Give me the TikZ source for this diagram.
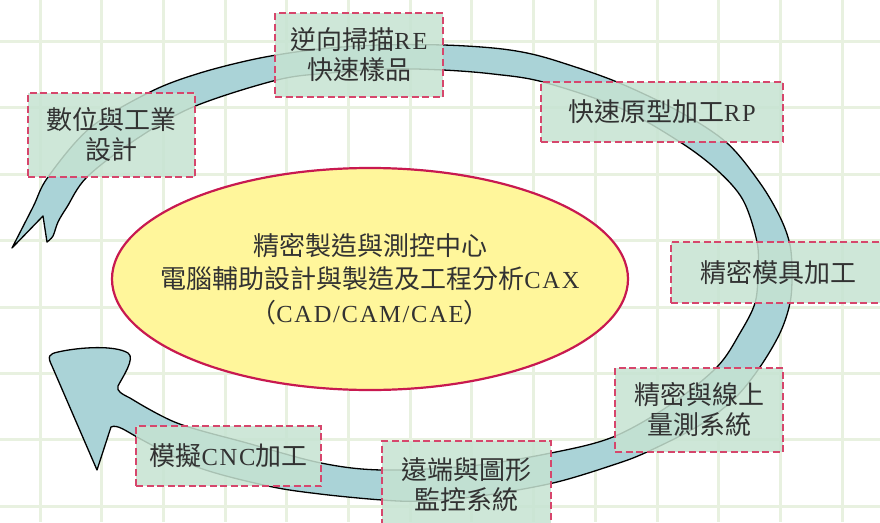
\documentclass[tikz,border=0pt]{standalone}
\usepackage{fontspec}
\setmainfont{Liberation Serif}
\newfontfamily\cjk{Noto Sans CJK TC}
\newfontfamily\latfont[LetterSpace=7]{Liberation Serif}
\usetikzlibrary{shapes.geometric}
\definecolor{gridc}{RGB}{232,241,224}
\definecolor{bandc}{RGB}{170,211,215}
\definecolor{ellfill}{RGB}{255,246,155}
\definecolor{elldraw}{RGB}{200,25,80}
\definecolor{boxfill}{RGB}{198,227,210}
\definecolor{boxdraw}{RGB}{214,70,108}
\definecolor{txt}{RGB}{50,50,50}
\newcommand\mylat[1]{{\latfont\fontsize{24.5}{30}\selectfont #1}}
\begin{document}
\begin{tikzpicture}[x=1pt,y=-1pt,
  lbl/.style={font=\cjk\fontsize{26}{30}\selectfont, text=txt, align=center, inner sep=0pt},
  stagebox/.style={lbl, draw=boxdraw, line width=1.8pt, dash pattern=on 7pt off 3.5pt,
     fill=boxfill, fill opacity=0.85, text opacity=1, draw opacity=1},
  band/.style={fill=bandc, draw=black, line width=1.3pt, line join=round},
  hub/.style={ellipse, draw=elldraw, fill=ellfill, line width=2.2pt, inner sep=0pt},
  gridline/.style={draw=gridc, line width=3pt}]
\clip (0,0) rectangle (880,522);
\fill[white] (0,0) rectangle (880,522);
\foreach \i in {0,...,13} \draw[gridline] ({40+61.7*\i},0) -- ({40+61.7*\i},522);
\foreach \j in {0,...,7} \draw[gridline] (0,{41.5+66.4*\j}) -- (880,{41.5+66.4*\j});

% circular band arrow
\draw[band] plot[smooth,tension=0.55] coordinates {(12,248) (33,207) (48,177) (90,128) (150,92) (200,73) (260,58) (320,49) (380,45) (443,45) (493,48) (527,53) (560,62) (617,82) (680,112) (727,143) (760,183) (780,217) (790,245) (792,275) (790,303) (780,333) (760,367) (735,398) (700,425) (647,452) (613,465) (553,483) (480,496) (420,501) (382,500) (320,494) (268,486) (197,467) (137,437)}
 .. controls (126,431) and (117,424) .. (111,427)
 -- (97,470)
 -- (52,366) .. controls (47,356) and (49,354) .. (58,352)
 .. controls (80,347) and (115,345) .. (128,353)
 .. controls (136,358) and (122,378) .. (118,386)
 .. controls (116,391) and (122,394) .. (130,398)
 -- plot[smooth,tension=0.55] coordinates {(130,398) (177,423) (247,443) (321,463) (382,470) (470,466) (551,453) (613,437) (670,405) (717,367) (740,333) (755,303) (758,272) (757,242) (743,200) (717,170) (680,142) (620,108) (543,82) (493,74) (443,70) (390,69) (330,73) (277,80) (193,107) (135,140) (87,177) (67,207) (58,222) (53,236) (47,242)}
 -- (43,216) -- cycle;

% central ellipse
\node[hub, minimum width=516, minimum height=222] (hub) at (370,279) {};
\node[lbl, font=\cjk\fontsize{26}{33.5}\selectfont] (hubtext) at (370,279)
  {精密製造與測控中心\\電腦輔助設計與製造及工程分析\mylat{CAX}\\（\mylat{CAD/CAM/CAE}）};

% stage boxes
\node[stagebox, minimum width=167, minimum height=84] (s1) at (111.5,135) {數位與工業\\設計};
\node[stagebox, minimum width=168, minimum height=84] (s2) at (359,55) {逆向掃描\mylat{RE}\\快速樣品};
\node[stagebox, minimum width=242, minimum height=60] (s3) at (662,112) {快速原型加工\mylat{RP}};
\node[stagebox, minimum width=215, minimum height=61] (s4) at (778.5,272.5) {精密模具加工};
\node[stagebox, minimum width=168, minimum height=84] (s5) at (699,410) {精密與線上\\量測系統};
\node[stagebox, minimum width=169, minimum height=88] (s6) at (466.5,485) {遠端與圖形\\監控系統};
\node[stagebox, minimum width=185, minimum height=60] (s7) at (228.5,456) {模擬\mylat{CNC}加工};
\end{tikzpicture}
\end{document}
